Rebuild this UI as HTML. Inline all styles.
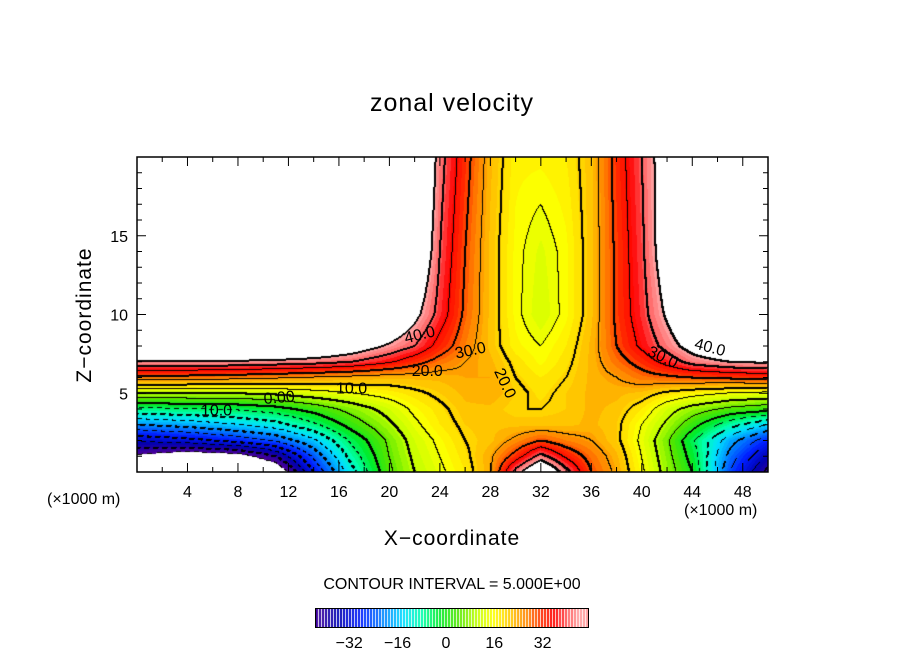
<!DOCTYPE html>
<html><head><meta charset="utf-8"><style>
html,body{margin:0;padding:0;background:#fff;}
#root{position:relative;width:904px;height:654px;overflow:hidden;font-family:"Liberation Sans",sans-serif;color:#000;}
.t{position:absolute;white-space:nowrap;}
</style></head><body>
<div id="root">
<div class="t" style="left:0;width:904px;text-align:center;top:89px;font-size:25px;letter-spacing:1px;">zonal velocity</div>
<canvas id="field" width="631" height="315" style="position:absolute;left:137px;top:157px;"></canvas>
<svg id="axes" width="904" height="654" style="position:absolute;left:0;top:0;"></svg>
<div class="t" style="left:85px;top:315px;font-size:21px;transform:translate(-50%,-50%) rotate(-90deg);letter-spacing:1px;">Z−coordinate</div>
<div class="t" style="left:0;width:904px;text-align:center;top:527px;font-size:21px;letter-spacing:1px;">X−coordinate</div>
<div class="t" style="left:47px;top:491px;font-size:16px;">(×1000 m)</div>
<div class="t" style="left:684px;top:502px;font-size:16px;">(×1000 m)</div>
<div class="t" style="left:0;width:904px;text-align:center;top:576px;font-size:16px;">CONTOUR INTERVAL = 5.000E+00</div>
<canvas id="cbar" width="272" height="18" style="position:absolute;left:316px;top:609px;"></canvas>
<div style="position:absolute;left:315px;top:608px;width:272px;height:18px;border:1px solid #000;"></div>
</div>
<script>
const xs=[0,4,8,11,14,17,20,22,24,26,28,30,32,34,36,38,40,42,44,47,50];
const zs=[0,1,2,3,4,5,6,7,8,10,14,20];
const z0=[-58,-60,-60,-52,-30,-12,4,10,14,18,24,42,55,42,30,24,16,8,0,-25,-42];
const z1=[-46,-50,-48,-40,-24,-8,5,11,15,19,24,32,42,34,28,23,15,7,-2,-22,-36];
const z2=[-34,-32,-28,-24,-16,-4,6,12,16,20,22,26,30,27,25,21,14,6,-4,-18,-28];
const z3=[-20,-18,-15,-12,-6,2,9,14,18,21,22,22,22,22,23,21,15,9,2,-8,-15];
const z4=[-6,-5,-4,-2,2,7,12,16,19,22,22,20,20,21,23,22,18,12,8,4,2];
const z5=[10,10,10,11,13,15,17,19,21,23,24,21,19,21,23,23,22,19,17,15,14];
const z6=[28,28,27,26,25,24,23,23,23,24,24,20,18,20,23,25,28,29,30,31,32];
const z7=[44,44,44,43,42,40,36,32,28,25,23,19,16,19,23,28,32,37,42,45,46];
const z8=[60,60,60,60,55,50,44,40,33,27,22,17,15,18,23,30,36,42,48,55,60];
const z10=[60,60,60,60,60,60,55,47,38,29,22,16,12,16,22,31,38,46,55,60,60];
const z14=[60,60,60,60,60,60,60,55,40,30,22,16,13,16,22,31,39,50,60,60,60];
const z20=[60,60,60,60,60,60,60,60,42,32,23,17,17,18,22,32,40,50,60,60,60];
const rows=[z0,z1,z2,z3,z4,z5,z6,z7,z8,z10,z14,z20];
const xTicks=[4,8,12,16,20,24,28,32,36,40,44,48];
const zTicks=[5,10,15];
const cbTicks=[-32,-16,0,16,32];
const contourLabels=[{t:"40.0",x:22.5,z:8.4,a:-14},{t:"30.0",x:26.5,z:7.4,a:-12},{t:"20.0",x:23,z:6.1,a:0},{t:"10.0",x:17,z:5.0,a:0},{t:"0.00",x:11.3,z:4.4,a:-5},{t:"10.0",x:6.3,z:3.6,a:0},{t:"20.0",x:28.8,z:5.5,a:65},{t:"30.0",x:41.5,z:7.0,a:25},{t:"40.0",x:45.3,z:7.6,a:15}];

const X0=137,Y0=157,W=631,H=315,XMAX=50,ZMAX=20;
const sx=v=>X0+v/XMAX*W, sz=v=>Y0+H-v/ZMAX*H;
function seg(arr,v){let i=0;while(i<arr.length-2&&v>arr[i+1])i++;return i;}
function field(x,z){const i=seg(xs,x),j=seg(zs,z);
 const tx=(x-xs[i])/(xs[i+1]-xs[i]),tz=(z-zs[j])/(zs[j+1]-zs[j]);
 const a=rows[j][i],b=rows[j][i+1],c=rows[j+1][i],d=rows[j+1][i+1];
 return (a*(1-tx)+b*tx)*(1-tz)+(c*(1-tx)+d*tx)*tz;}
const stops=[[-45,[80,0,150]],[-36,[0,0,175]],[-28,[0,30,255]],[-20,[0,140,255]],[-14,[0,225,255]],[-8,[0,255,170]],[-2,[0,235,40]],[4,[80,230,0]],[10,[190,255,0]],[16,[255,255,0]],[22,[255,195,0]],[27,[255,130,0]],[32,[255,40,0]],[36,[255,0,0]],[40,[255,90,90]],[45,[255,170,170]]];
function color(v){if(v>45||v<-45)return [255,255,255];
 v=Math.floor(v/1.5)*1.5+0.75;
 for(let k=0;k<stops.length-1;k++){const[a,ca]=stops[k],[b,cb]=stops[k+1];
  if(v<=b||k==stops.length-2){let t=Math.max(0,Math.min(1,(v-a)/(b-a)));return ca.map((c,q)=>Math.round(c+(cb[q]-c)*t));}}}
const cv=document.getElementById('field'),ctx=cv.getContext('2d');
const img=ctx.createImageData(W,H),L=new Float32Array(W*H);
for(let py=0;py<H;py++)for(let px=0;px<W;px++){const v=field((px+0.5)/W*XMAX,ZMAX-(py+0.5)/H*ZMAX);L[py*W+px]=v;
 const c=color(v),o=(py*W+px)*4;img.data[o]=c[0];img.data[o+1]=c[1];img.data[o+2]=c[2];img.data[o+3]=255;}
function lev(v){return v>45?9:(v<-45?-10:Math.floor(v/5));}
function black(px,py){if(px<0||py<0||px>=W||py>=H)return;const o=(py*W+px)*4;img.data[o]=0;img.data[o+1]=0;img.data[o+2]=0;}
for(let py=0;py<H-1;py++)for(let px=0;px<W-1;px++){const a=lev(L[py*W+px]),b=lev(L[py*W+px+1]),c=lev(L[(py+1)*W+px]);
 [[a,b],[a,c]].forEach(([p,q])=>{if(p!==q){const lvl=Math.max(p,q)*5;
  if(lvl<0&&((px+py)%9)>4)return;
  black(px,py);if(lvl%10===0||lvl>=45){black(px+1,py);black(px,py+1);}}});}
ctx.putImageData(img,0,0);
const cb=document.getElementById('cbar'),cc=cb.getContext('2d');
const CBMIN=-43,CBMAX=47;
for(let px=0;px<272;px++){const v=CBMIN+(px+0.5)/272*(CBMAX-CBMIN);const c=color(Math.min(44.9,v));
 cc.fillStyle=(px%3===2)?'#fff':`rgb(${c[0]},${c[1]},${c[2]})`;cc.fillRect(px,0,1,18);}
const svg=document.getElementById('axes'),NS='http://www.w3.org/2000/svg';
function mk(tag,at){const e=document.createElementNS(NS,tag);for(const k in at)e.setAttribute(k,at[k]);svg.appendChild(e);return e;}
const fr=mk('rect',{x:X0,y:Y0,width:W,height:H,fill:'none',stroke:'#000','stroke-width':1.5});


for(let v=2;v<XMAX;v+=2){const len=v%4===0?9:5;
 mk('line',{x1:sx(v),x2:sx(v),y1:Y0+H,y2:Y0+H-len,stroke:'#000'});mk('line',{x1:sx(v),x2:sx(v),y1:Y0,y2:Y0+len,stroke:'#000'});}
for(let v=1;v<ZMAX;v++){const len=v%5===0?9:5;
 mk('line',{x1:X0,x2:X0+len,y1:sz(v),y2:sz(v),stroke:'#000'});mk('line',{x1:X0+W,x2:X0+W-len,y1:sz(v),y2:sz(v),stroke:'#000'});}
xTicks.forEach(v=>{const t=mk('text',{x:sx(v),y:497,'text-anchor':'middle','font-size':16,'font-family':'Liberation Sans, sans-serif'});t.textContent=v;
 
 });
zTicks.forEach(v=>{const t=mk('text',{x:128,y:sz(v)+6,'text-anchor':'end','font-size':16,'font-family':'Liberation Sans, sans-serif'});t.textContent=v;
 
 });
cbTicks.forEach(v=>{const t=mk('text',{x:316+(v-CBMIN)/(CBMAX-CBMIN)*272,y:648,'text-anchor':'middle','font-size':16,'font-family':'Liberation Sans, sans-serif'});t.textContent=(v<0?'−':'')+Math.abs(v);
 
 });
contourLabels.forEach(c=>{const t=mk('text',{x:sx(c.x),y:sz(c.z),'text-anchor':'middle','font-size':16,'font-family':'Liberation Sans, sans-serif',transform:`rotate(${c.a} ${sx(c.x)} ${sz(c.z)})`});t.textContent=c.t;
 
 });
</script>
</body></html>
